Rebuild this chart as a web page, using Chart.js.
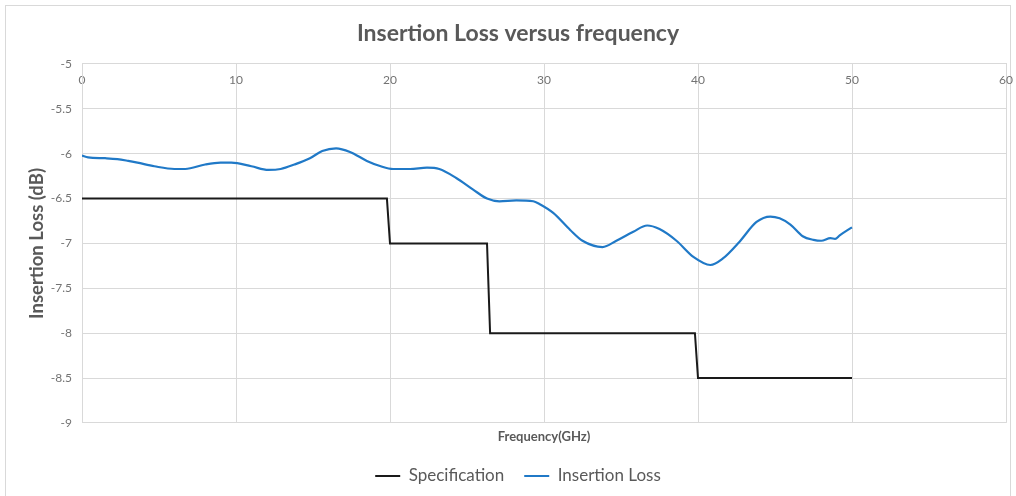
<!DOCTYPE html>
<html>
<head>
<meta charset="utf-8">
<script src="https://cdn.jsdelivr.net/npm/chart.js@4/dist/chart.umd.min.js"></script>
<style>
  html, body { margin: 0; padding: 0; background: #fff; }
  #frame { position: absolute; left: 5px; top: 5px; width: 1004px; height: 500px; border: 1px solid #d9d9d9; }
  #wrap { position: absolute; left: 0; top: 0; width: 1016px; height: 496px; }
</style>
</head>
<body>
<div id="frame"></div>
<div id="wrap"><canvas id="ilChart" width="1016" height="496"></canvas></div>
<script>
// spec limit steps
const specFreq = [0, 19.8, 20, 26.3, 26.5, 39.8, 40, 50];
const specLoss = [-6.5, -6.5, -7, -7, -8, -8, -8.5, -8.5];

const ilFreq = [0, 0.4, 1.5, 2.3, 3.0, 3.6, 4.7, 6.0, 6.7, 8.0, 9.0, 9.7, 11.0, 12.1, 12.9, 13.8,
  14.8, 15.6, 16.5, 17.4, 18.5, 19.4, 20.2, 21.3, 22.4, 23.2, 24.3, 25.4, 26.3, 27.1, 28.2, 29.3,
  29.7, 30.6, 31.7, 32.5, 33.8, 34.7, 35.8, 36.7, 37.5, 38.6, 39.7, 40.8, 41.6, 42.7, 43.8, 44.7,
  45.3, 46.0, 46.8, 47.5, 48.0, 48.6, 48.9, 49.2, 50.0];
const ilLoss = [-6.02, -6.04, -6.05, -6.06, -6.08, -6.10, -6.14, -6.17, -6.17, -6.12, -6.10, -6.10, -6.14, -6.18, -6.17, -6.12,
  -6.05, -5.97, -5.94, -5.98, -6.08, -6.14, -6.17, -6.17, -6.155, -6.17, -6.27, -6.40, -6.50, -6.53, -6.52, -6.53,
  -6.56, -6.66, -6.85, -6.97, -7.04, -6.97, -6.87, -6.80, -6.84, -6.97, -7.15, -7.24, -7.17, -6.98, -6.76, -6.70,
  -6.72, -6.79, -6.92, -6.96, -6.97, -6.94, -6.95, -6.91, -6.82];

const xTicks = { min: 0, max: 60, step: 10 };
const yTicks = { min: -9, max: -5, step: 0.5 };

const toPoints = (xs, ys) => xs.map((x, i) => ({ x: x, y: ys[i] }));

const gridGray = '#d9d9d9';
const textGray = '#595959';
const fontName = 'Lato';

// keep the horizontal axes from reserving room for half of the end labels
const noSidePad = s => { s.paddingLeft = 0; s.paddingRight = 0; };

new Chart(document.getElementById('ilChart'), {
  type: 'scatter',
  data: {
    datasets: [{
      label: 'Specification',
      data: toPoints(specFreq, specLoss),
      showLine: true,
      borderColor: '#1a1a1a',
      backgroundColor: '#1a1a1a',
      borderWidth: 2,
      pointRadius: 0,
      pointStyle: 'line',
      tension: 0
    }, {
      label: 'Insertion Loss',
      data: toPoints(ilFreq, ilLoss),
      showLine: true,
      borderColor: '#2079c7',
      backgroundColor: '#2079c7',
      borderWidth: 2.2,
      pointRadius: 0,
      pointStyle: 'line',
      cubicInterpolationMode: 'monotone'
    }]
  },
  options: {
    responsive: false,
    animation: false,
    layout: { padding: { left: 30, right: 10, top: 0, bottom: 11.5 } },
    plugins: {
      title: {
        display: true,
        text: 'Insertion Loss versus frequency',
        color: textGray,
        font: { family: fontName, size: 23, weight: 'bold' },
        padding: { top: 20, bottom: 3 }
      },
      legend: {
        position: 'bottom',
        maxHeight: 37,
        labels: {
          usePointStyle: true,
          pointStyleWidth: 25,
          padding: 20,
          color: textGray,
          font: { family: fontName, size: 17 }
        }
      },
      tooltip: { enabled: false }
    },
    scales: {
      x: {
        type: 'linear',
        position: 'top',
        min: xTicks.min,
        max: xTicks.max,
        ticks: {
          stepSize: xTicks.step,
          mirror: true,
          padding: 9,
          color: '#737373',
          font: { family: fontName, size: 12 }
        },
        grid: { color: gridGray, drawTicks: false },
        border: { color: gridGray },
        afterFit: s => { s.height = 13.4; noSidePad(s); }
      },
      x2: {
        type: 'linear',
        position: 'bottom',
        min: xTicks.min,
        max: xTicks.max,
        ticks: { display: false },
        grid: { display: false, drawTicks: false },
        border: { display: false },
        title: {
          display: true,
          text: 'Frequency(GHz)',
          color: textGray,
          font: { family: fontName, size: 13, weight: 'bold' },
          padding: { top: 6, bottom: 3 }
        },
        afterFit: noSidePad
      },
      y: {
        min: yTicks.min,
        max: yTicks.max,
        ticks: {
          stepSize: yTicks.step,
          padding: 10,
          color: '#737373',
          font: { family: fontName, size: 12 },
          callback: v => String(v)
        },
        grid: { color: gridGray, drawTicks: false },
        border: { color: gridGray },
        title: {
          display: true,
          text: 'Insertion Loss (dB)',
          color: textGray,
          font: { family: fontName, size: 18.5, weight: 'bold' },
          padding: { top: -4, bottom: 0 }
        },
        afterFit: s => { s.width = 52; }
      }
    }
  }
});
</script>
</body>
</html>
